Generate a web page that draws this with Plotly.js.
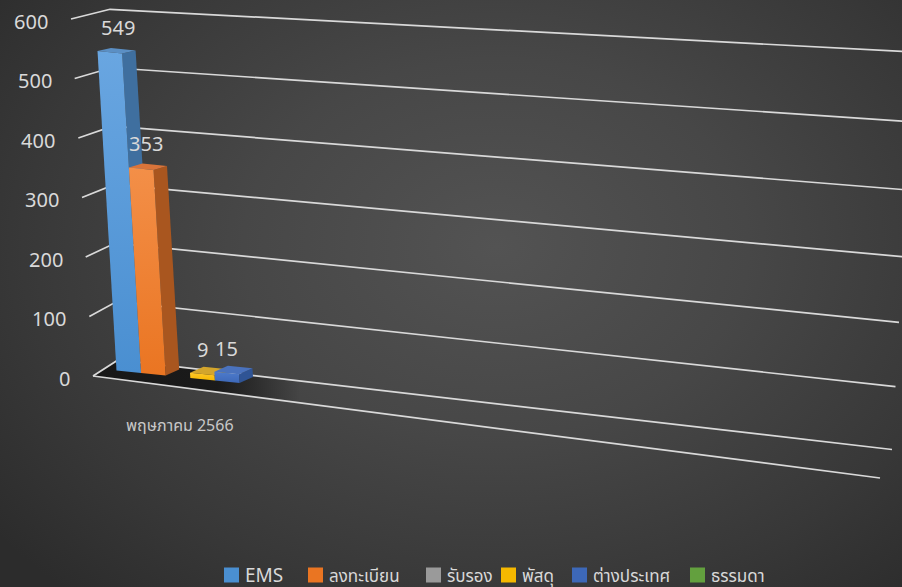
<!DOCTYPE html>
<html><head><meta charset="utf-8">
<script src="https://cdn.plot.ly/plotly-3.0.1.min.js"></script>
<style>
html,body{margin:0;padding:0;}
body{width:902px;height:587px;overflow:hidden;background:radial-gradient(ellipse 70% 80% at 55% 42%, #535353 0%, #474747 40%, #383838 75%, #2c2c2c 100%);}
#chart{width:902px;height:587px;}
</style></head><body><div id="chart"></div>
<script>
// ---- data ----
const categories = ['พฤษภาคม 2566'];
const seriesNames = ['EMS', 'ลงทะเบียน', 'รับรอง', 'พัสดุ', 'ต่างประเทศ', 'ธรรมดา'];
const seriesValues = [549, 353, 0, 9, 15, 0];
const tickValues = [0, 100, 200, 300, 400, 500, 600];
const tickLabels = ['0', '100', '200', '300', '400', '500', '600'];

// ---- styles ----
const frontTop = ['#69a6e1', '#f38f48', '#b3b3b3', '#ffc72a', '#4d7bcc', '#7cb856'];
const frontBot = ['#4a8fd1', '#ea7522', '#9a9a9a', '#f5b800', '#3d68b8', '#63a03e'];
const sideCol = ['#3f6f9f', '#a9561f', '#7a7a7a', '#b58a00', '#2f5495', '#4e7d31'];
const topCol = ['#5b8fc4', '#d9743a', '#bdbdbd', '#d3a52c', '#4a72bd', '#86bd62'];
const FONT = 'Segoe UI, "Noto Sans", "Noto Sans Thai", Tahoma, "Open Sans", sans-serif';
const TXT = '#d9d9d9';

// ---- pseudo-3D geometry (pixel space) ----
const W = 902, H = 587;
const K = 0.582, Y0 = 370.5;           // px per value unit, pixel y of first bar base
const toU = py => (Y0 - py) / K;       // pixel y -> y-axis units
const LEAN = -0.0346;                  // x shift per value unit
const slotX = t => 116.5 + 24.6 * t;
const slotY = t => 370.5 + 2.5 * t;
const depth = h => [13.5, -6 + 0.0055 * h];
const gridFront = v => [93 - 22 * v / 600, 376 - 357 * v / 600];
const gridBack = v => [118 - 8 * v / 600, 360 - 350.7 * v / 600];
const gridRight = v => [892 + 0.035 * v, 449.5 - 0.6228 * v - 6.61e-5 * v * v];
const floorFrontRight = [880, 478];

const traces = [];
function poly(pts, color, grad) {
  const t = {
    type: 'scatter', mode: 'lines', fill: 'toself',
    x: pts.map(p => p[0]).concat([pts[0][0]]),
    y: pts.map(p => toU(p[1])).concat([toU(pts[0][1])]),
    line: {width: 0, color: 'rgba(0,0,0,0)'},
    fillcolor: color, hoverinfo: 'skip', showlegend: false
  };
  if (grad) t.fillgradient = grad;
  traces.push(t);
}

// floor shadow
{
  const f0 = gridFront(0), b0 = gridBack(0), r0 = gridRight(0);
  const backAt = x => b0[1] + (x - b0[0]) * (r0[1] - b0[1]) / (r0[0] - b0[0]);
  const frontAt = x => f0[1] + (x - f0[0]) * (floorFrontRight[1] - f0[1]) / (floorFrontRight[0] - f0[0]);
  const xe = 300;
  poly([f0, b0, [xe, backAt(xe)], [xe, frontAt(xe)]], 'rgba(20,20,20,0.85)',
    {type: 'horizontal', colorscale: [[0, 'rgba(22,22,22,0.95)'], [0.6, 'rgba(22,22,22,0.9)'], [1, 'rgba(22,22,22,0)']]});
}

// gridlines
{
  const gx = [], gy = [];
  tickValues.forEach(v => {
    const f = gridFront(v), b = gridBack(v), r = gridRight(v);
    [f, b, r].forEach(p => { gx.push(p[0]); gy.push(toU(p[1])); });
    gx.push(null); gy.push(null);
  });
  const f0 = gridFront(0);
  gx.push(f0[0], floorFrontRight[0]); gy.push(toU(f0[1]), toU(floorFrontRight[1]));
  traces.push({type: 'scatter', mode: 'lines', x: gx, y: gy, connectgaps: false,
    line: {color: '#d9d9d9', width: 1.7}, hoverinfo: 'skip', showlegend: false});
}

// bars
const annotations = [];
const maxVal = Math.max(...seriesValues);
seriesValues.forEach((v, i) => {
  if (!(v > 0)) return;
  const bl = [slotX(i), slotY(i)], br = [slotX(i + 1), slotY(i + 1)];
  const tl = [bl[0] + LEAN * v, bl[1] - K * v], tr = [br[0] + LEAN * v, br[1] - K * v];
  const dT = depth(v), d0 = depth(0);
  const add = (p, d) => [p[0] + d[0], p[1] + d[1]];
  poly([br, tr, add(tr, dT), add(br, d0)], sideCol[i]);
  poly([tl, tr, add(tr, dT), add(tl, dT)], topCol[i]);
  poly([bl, br, tr, tl], frontBot[i],
    {type: 'vertical', colorscale: [[0, frontBot[i]], [1, frontTop[i]]]});
  annotations.push({
    x: (tl[0] + tr[0]) / 2 + 8 * v / maxVal, y: toU((tl[1] + tr[1]) / 2 - 25),
    xref: 'x', yref: 'y', text: String(v), showarrow: false,
    xanchor: 'center', yanchor: 'middle', font: {family: FONT, size: 20, color: TXT}
  });
});

// value axis labels
tickValues.forEach((v, k) => {
  const f = gridFront(v);
  annotations.push({x: f[0] - 21, y: toU(f[1] + 2), xref: 'x', yref: 'y', text: tickLabels[k],
    showarrow: false, xanchor: 'right', yanchor: 'middle', font: {family: FONT, size: 20, color: TXT}});
});

// category label
annotations.push({x: 180, y: toU(425), xref: 'x', yref: 'y', text: categories[0], showarrow: false,
  xanchor: 'center', yanchor: 'middle', font: {family: FONT, size: 16, color: '#c8c8c8'}});

// legend (manual, Excel style)
const legSwatchX = [224, 308, 426, 501, 572, 690];
const legY = 575;
const shapes = [];
seriesNames.forEach((name, i) => {
  const x0 = legSwatchX[i];
  shapes.push({type: 'rect', xref: 'x', yref: 'y', x0: x0, x1: x0 + 15,
    y0: toU(legY - 7.5), y1: toU(legY + 7.5), line: {width: 0}, fillcolor: frontBot[i]});
  annotations.push({x: x0 + 19, y: toU(legY), xref: 'x', yref: 'y', text: name, showarrow: false,
    xanchor: 'left', yanchor: 'middle', font: {family: FONT, size: i === 0 ? 19 : 17, color: TXT}});
});

const layout = {
  width: W, height: H, margin: {l: 0, r: 0, t: 0, b: 0},
  paper_bgcolor: 'rgba(0,0,0,0)', plot_bgcolor: 'rgba(0,0,0,0)',
  xaxis: {range: [0, W], visible: false, fixedrange: true},
  yaxis: {range: [toU(H), toU(0)], visible: false, fixedrange: true},
  showlegend: false, annotations: annotations, shapes: shapes, hovermode: false
};
Plotly.newPlot('chart', traces, layout, {displayModeBar: false, staticPlot: true});
</script></body></html>
